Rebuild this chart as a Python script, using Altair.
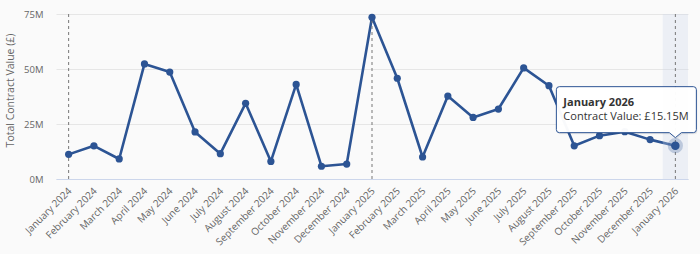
import json
import altair as alt
import pandas as pd

months = [
    "January 2024", "February 2024", "March 2024", "April 2024", "May 2024",
    "June 2024", "July 2024", "August 2024", "September 2024", "October 2024",
    "November 2024", "December 2024", "January 2025", "February 2025",
    "March 2025", "April 2025", "May 2025", "June 2025", "July 2025",
    "August 2025", "September 2025", "October 2025", "November 2025",
    "December 2025", "January 2026",
]
values = [
    11.2, 15.1, 9.1, 52.3, 48.6, 21.4, 11.5, 34.4, 8.0, 43.0, 5.8, 6.8,
    73.5, 45.8, 10.0, 37.7, 28.0, 31.8, 50.5, 42.4, 15.1, 19.7, 21.5, 17.9,
    15.15,
]
y_ticks = [0, 25, 50, 75]
hover_month = "January 2026"

BLUE = "#2c5494"
FONT = "Open Sans"

df = pd.DataFrame({"idx": list(range(len(months))), "month": months, "value": values})
df["lo"] = y_ticks[0]
df["hi"] = y_ticks[-1]
df["a"] = df["idx"] - 0.5
df["b"] = df["idx"] + 0.5

base = alt.Chart(df)

x_scale = alt.Scale(domain=[-0.5, len(months) - 0.5], nice=False, zero=False)
y_scale = alt.Scale(domain=[y_ticks[0], y_ticks[-1]], nice=False)

x_enc = alt.X(
    "idx:Q",
    scale=x_scale,
    axis=alt.Axis(
        values=list(range(len(months))),
        tickCount=len(months) + 5,
        labelExpr=json.dumps(months) + "[datum.value]",
        labelAngle=315,
        labelAlign="right",
        labelBaseline="middle",
        labelPadding=10,
        labelOffset=1,
        labelFontSize=10,
        labelOverlap=False,
        ticks=False,
        grid=False,
        title=None,
    ),
)
y_enc = alt.Y(
    "value:Q",
    scale=y_scale,
    axis=alt.Axis(
        values=y_ticks,
        labelExpr="datum.value + 'M'",
        labelPadding=13,
        ticks=False,
        domain=False,
        title="Total Contract Value (£)",
        titleAngle=270,
        titleAlign="center",
        titleBaseline="middle",
        titleX=-46,
        titleY=76,
    ),
)

hover = base.transform_filter(alt.datum.month == hover_month)

line = base.mark_line(color=BLUE, strokeWidth=2.6, strokeJoin="round", strokeCap="round").encode(
    x=x_enc, y=y_enc
)

band = hover.mark_rect(color="#ccd6eb", opacity=0.3).encode(
    x="a:Q", x2="b:Q", y="lo:Q", y2="hi:Q",
)

rules = base.transform_filter("indexof(datum.month, 'January') == 0").mark_rule(
    color="#777777", strokeDash=[3, 3], strokeWidth=1
).encode(x="idx:Q", y="lo:Q", y2="hi:Q")

points = base.mark_circle(color=BLUE, size=52, opacity=1).encode(x="idx:Q", y="value:Q")

halo = hover.mark_circle(color=BLUE, size=230, opacity=0.25).encode(x="idx:Q", y="value:Q")
hpoint = hover.mark_circle(color=BLUE, size=72, opacity=1).encode(x="idx:Q", y="value:Q")

callout_path = (
    "M -116 -59 L 18 -59 Q 21 -59 21 -56 L 21 -16 Q 21 -13 18 -13 "
    "L 6 -13 L 0 -8 L -6 -13 L -116 -13 Q -119 -13 -119 -16 "
    "L -119 -56 Q -119 -59 -116 -59 Z"
)
shadow = hover.mark_point(
    shape=callout_path, size=4, filled=True, color="#000000", opacity=0.07,
    strokeWidth=0, xOffset=1, yOffset=1.5,
).encode(x="idx:Q", y="value:Q")
callout = hover.mark_point(
    shape=callout_path, size=4, filled=True, color="#ffffff", opacity=1,
    fillOpacity=0.97, stroke=BLUE, strokeWidth=1, strokeOpacity=1,
).encode(x="idx:Q", y="value:Q")

tip_title = hover.mark_text(
    align="left", baseline="alphabetic", dx=-112, dy=-40, font=FONT,
    fontSize=11, fontWeight="bold", color="#333333",
).encode(x="idx:Q", y="value:Q", text="month:N")
tip_body = hover.transform_calculate(
    tip="'Contract Value: £' + format(datum.value, '.2f') + 'M'"
).mark_text(
    align="left", baseline="alphabetic", dx=-112, dy=-26, font=FONT,
    fontSize=11, color="#333333",
).encode(x="idx:Q", y="value:Q", text="tip:N")

chart = alt.layer(
    line, band, rules, points, halo, hpoint, shadow, callout, tip_title, tip_body
).properties(
    width=632,
    height=165,
    padding={"left": 56, "top": 14, "right": 12, "bottom": 75},
    autosize=alt.AutoSizeParams(type="none"),
    background="#fafafa",
).configure_view(
    stroke=None
).configure_axis(
    labelFont=FONT,
    labelFontSize=9.5,
    labelColor="#666666",
    labelOverlap=False,
    labelBound=False,
    titleFont=FONT,
    titleFontSize=10.5,
    titleFontWeight="normal",
    titleColor="#666666",
    gridColor="#e6e6e6",
    domainColor="#ccd6eb",
)

chart.save("out.html", embed_options={"renderer": "svg", "actions": False})
